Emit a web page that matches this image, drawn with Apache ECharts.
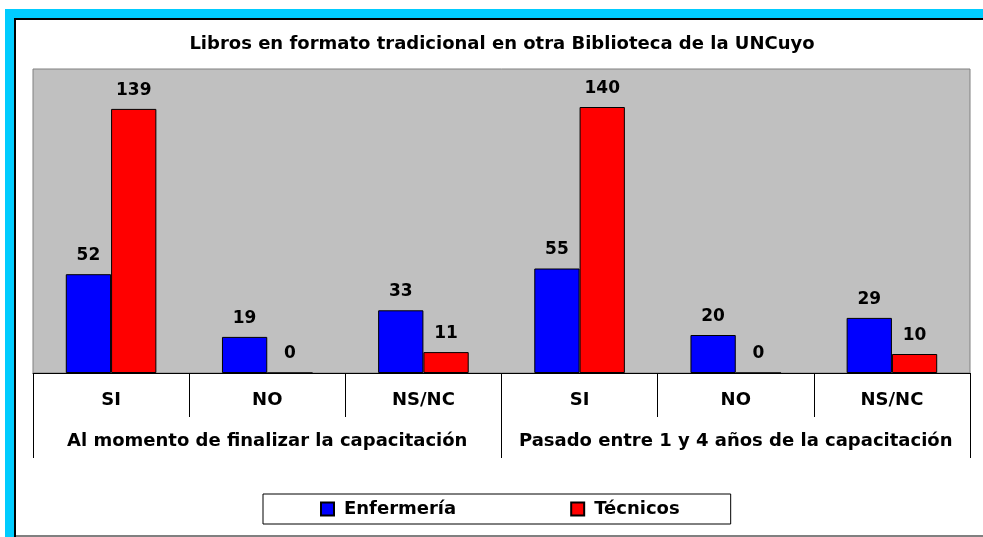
<!DOCTYPE html>
<html>
<head>
<meta charset="utf-8">
<script src="https://cdn.jsdelivr.net/npm/echarts@6/dist/echarts.min.js"></script>
<style>
  html, body { margin: 0; padding: 0; background: #fff; }
  #main { width: 983px; height: 537px; }
</style>
</head>
<body>
<div id="main"></div>
<script>
// categorias y valores
var categorias = ['SI', 'NO', 'NS/NC', 'SI', 'NO', 'NS/NC'];
var grupos = ['Al momento de finalizar la capacitación', 'Pasado entre 1 y 4 años de la capacitación'];
var enfermeria = [52, 19, 33, 55, 20, 29];
var tecnicos = [139, 0, 11, 140, 0, 10];

var chart = echarts.init(document.getElementById('main'));

var fuente = '"DejaVu Sans", Arial, sans-serif';
var etiqueta = {
  show: true,
  position: 'top',
  distance: 10,
  color: '#000',
  fontFamily: fuente,
  fontWeight: 'bold',
  fontSize: 17
};

var option = {
  backgroundColor: '#fff',
  animation: false,
  title: {
    text: 'Libros en formato tradicional en otra Biblioteca de la UNCuyo',
    left: 497,
    textAlign: 'center',
    top: 30,
    textStyle: {
      fontFamily: fuente,
      fontWeight: 'bold',
      fontSize: 18,
      color: '#000'
    }
  },
  graphic: [
    // marco celeste y negro
    { type: 'rect', shape: { x: 5, y: 9, width: 978, height: 9 }, style: { fill: '#00CCFF' } },
    { type: 'rect', shape: { x: 5, y: 9, width: 9, height: 528 }, style: { fill: '#00CCFF' } },
    { type: 'rect', shape: { x: 14, y: 18, width: 969, height: 2 }, style: { fill: '#000' } },
    { type: 'rect', shape: { x: 14, y: 18, width: 2, height: 519 }, style: { fill: '#000' } },
    { type: 'rect', shape: { x: 16, y: 535, width: 967, height: 2 }, style: { fill: '#808080' } }
  ],
  legend: {
    data: ['Enfermería', 'Técnicos'],
    left: 263,
    top: 494,
    padding: [6, 51, 6, 57],
    borderColor: '#000',
    borderWidth: 1,
    itemWidth: 13,
    itemHeight: 13,
    itemGap: 114,
    icon: 'rect',
    textStyle: {
      fontFamily: fuente,
      fontWeight: 'bold',
      fontSize: 18,
      color: '#000',
      padding: [0, 0, 0, 5]
    }
  },
  grid: {
    left: 33,
    right: 13,
    top: 69,
    bottom: 164,
    show: true,
    backgroundColor: '#C0C0C0',
    borderColor: '#808080',
    borderWidth: 1
  },
  xAxis: [{
    type: 'category',
    data: categorias,
    axisLine: { lineStyle: { color: '#000', width: 1 } },
    axisTick: { show: true, length: 44, lineStyle: { color: '#000' } },
    axisLabel: {
      interval: 0,
      margin: 18,
      color: '#000',
      fontFamily: fuente,
      fontWeight: 'bold',
      fontSize: 18
    }
  }, {
    type: 'category',
    data: grupos,
    position: 'bottom',
    axisLine: { show: false },
    axisTick: { show: true, interval: 0, length: 85, lineStyle: { color: '#000' } },
    axisLabel: {
      interval: 0,
      margin: 59,
      color: '#000',
      fontFamily: fuente,
      fontWeight: 'bold',
      fontSize: 18
    }
  }],
  yAxis: {
    type: 'value',
    min: 0,
    max: 160,
    show: false,
    splitLine: { show: false }
  },
  series: [{
    name: 'Enfermería',
    type: 'bar',
    data: enfermeria,
    barCategoryGap: '42%',
    barGap: '0%',
    itemStyle: { color: '#0000FF', borderColor: '#000', borderWidth: 1 },
    label: etiqueta
  }, {
    name: 'Técnicos',
    type: 'bar',
    data: tecnicos,
    barCategoryGap: '42%',
    barGap: '0%',
    itemStyle: { color: '#FF0000', borderColor: '#000', borderWidth: 1 },
    label: etiqueta
  }]
};

chart.setOption(option);
</script>
</body>
</html>
